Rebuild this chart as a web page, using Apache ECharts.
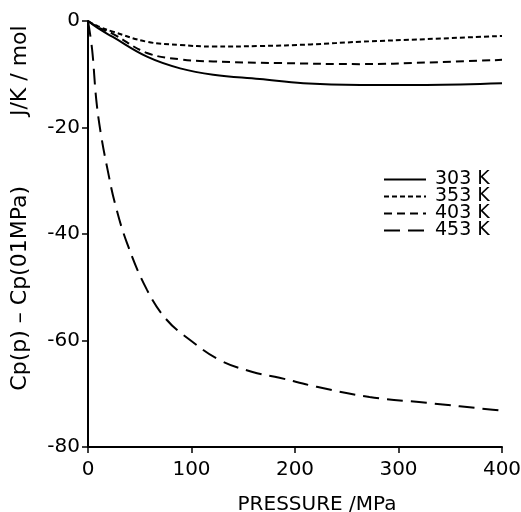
<!DOCTYPE html>
<html><head><meta charset="utf-8">
<script src="https://cdn.jsdelivr.net/npm/echarts@6/dist/echarts.min.js"></script>
<style>html,body{margin:0;padding:0;background:#fff}#c{width:521px;height:512px}</style>
</head><body><div id="c"></div>
<script>
var seriesNames = ['303 K', '353 K', '403 K', '453 K'];
var p303 = [0, 10, 24, 57, 89, 121, 166, 208, 263, 327, 400];
var v303 = [0, -1.4, -3.0, -6.7, -8.9, -10.1, -10.9, -11.7, -12.0, -12.0, -11.7];
var p353 = [0, 10, 24, 57, 89, 121, 166, 215, 263, 327, 400];
var v353 = [0, -1.0, -2.0, -3.9, -4.5, -4.8, -4.7, -4.4, -3.9, -3.4, -2.8];
var p403 = [0, 10, 24, 57, 89, 121, 185, 263, 327, 400];
var v403 = [0, -1.2, -2.4, -6.0, -7.2, -7.6, -7.9, -8.1, -7.8, -7.3];
var p453 = [0, 4, 8, 12.6, 19, 26, 37.7, 57, 76, 98.6, 127.5, 159, 185, 221, 272, 327, 391, 400];
var v453 = [0, -5.4, -14.8, -21.4, -28, -34.2, -41.7, -50.5, -56.1, -59.9, -63.7, -65.9, -67.0, -68.7, -70.6, -71.7, -73.0, -73.2];
var xTicks = [0, 100, 200, 300, 400];
var yTicks = [0, -20, -40, -60, -80];
var xTitle = 'PRESSURE /MPa';
var yTitle = 'Cp(p) \u2013 Cp(01MPa)          J/K / mol';

function pairs(p, v) { return p.map(function (x, i) { return [x, v[i]]; }); }
var F = 'DejaVu Sans';
var dashes = ['solid', [5, 3], [8, 5], [16, 8]];
var data = [pairs(p303, v303), pairs(p353, v353), pairs(p403, v403), pairs(p453, v453)];

var chart = echarts.init(document.getElementById('c'));
chart.setOption({
  animation: false,
  grid: { left: 88, right: 19, top: 21, bottom: 65, outerBoundsMode: 'none', containLabel: false },
  legend: {
    orient: 'vertical', left: 378, top: 165,
    itemWidth: 42, itemHeight: 12, itemGap: -2,
    data: seriesNames,
    itemStyle: { opacity: 0 },
    textStyle: { fontFamily: F, fontSize: 19, color: '#000', padding: [0, 0, 0, 4] }
  },
  xAxis: {
    type: 'value', min: 0, max: 400, interval: 100,
    name: xTitle, nameLocation: 'middle', nameGap: 48,
    nameTextStyle: { fontFamily: F, fontSize: 20, color: '#000', padding: [0, 0, 0, 44] },
    axisLine: { onZero: false, lineStyle: { color: '#000', width: 2 } },
    axisTick: { length: 6, lineStyle: { color: '#000', width: 1.5 } },
    axisLabel: { margin: 13, fontFamily: F, fontSize: 20, color: '#000',
      formatter: function (v) { return xTicks.indexOf(v) >= 0 ? String(v) : ''; } },
    splitLine: { show: false }
  },
  yAxis: {
    type: 'value', min: -80, max: 0, interval: 20,
    name: yTitle, nameLocation: 'middle', nameGap: 57, nameRotate: 90,
    nameTextStyle: { fontFamily: F, fontSize: 22, color: '#000', padding: [0, 0, 0, 52] },
    axisLine: { onZero: false, lineStyle: { color: '#000', width: 2 } },
    axisTick: { length: 6, lineStyle: { color: '#000', width: 1.5 } },
    axisLabel: { margin: 8, fontFamily: F, fontSize: 20, color: '#000',
      formatter: function (v) { return yTicks.indexOf(v) >= 0 ? (v < 0 ? '-' + Math.abs(v) : String(v)) : ''; } },
    splitLine: { show: false }
  },
  series: seriesNames.map(function (n, i) {
    return {
      name: n, type: 'line', data: data[i], smooth: 0.4, symbol: 'none',
      lineStyle: { color: '#000', width: 2, type: dashes[i] },
      itemStyle: { color: '#000' }
    };
  })
});
</script></body></html>
